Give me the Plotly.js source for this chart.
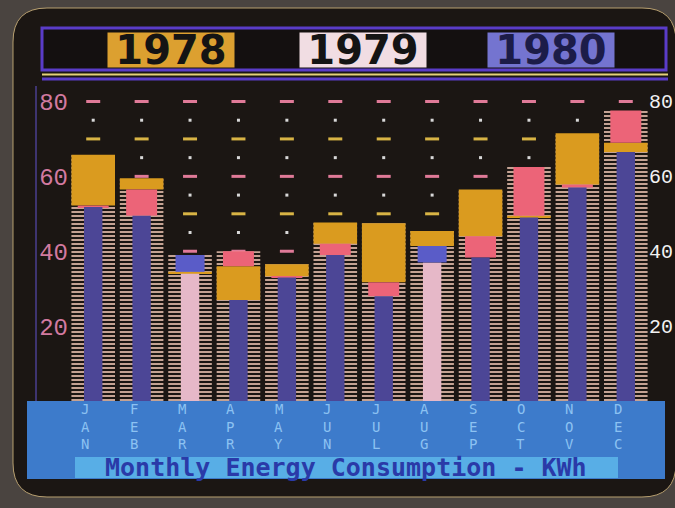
<!DOCTYPE html>
<html><head><meta charset="utf-8">
<script src="https://cdn.plot.ly/plotly-3.0.1.min.js"></script>
<style>html,body{margin:0;padding:0;background:#4a4440;}#chart{width:675px;height:508px;}</style>
</head><body><div id="chart"></div>
<script>
// ---- data ----
const months = ['JAN','FEB','MAR','APR','MAY','JUN','JUL','AUG','SEP','OCT','NOV','DEC'];
const years = ['1978','1979','1980'];
const kwh1978 = [65.8, 59.5, 34.5, 36.0, 36.5, 47.7, 47.5, 45.4, 56.5, 49.5, 71.5, 69.0];
const kwh1979 = [52.2, 56.5, 34.0, 40.0, 33.3, 42.0, 31.7, 37.0, 44.0, 62.5, 57.8, 77.6];
const kwh1980 = [51.8, 49.5, 39.0, 27.0, 33.0, 39.0, 28.0, 41.4, 38.3, 49.0, 57.0, 66.5];
const yTicks = [20, 40, 60, 80];
const gridPink = [20, 40, 60, 80];
const gridYellow = [10, 30, 50, 70];
const gridWhite = [5, 15, 25, 35, 45, 55, 65, 75];
const chartTitle = 'Monthly Energy Consumption - KWh';

// ---- geometry helpers (pixel -> paper) ----
const W = 675, H = 508, L = 69, R = 650, T = 94, B = 401;
const px = x => (x - L) / (R - L);
const py = y => (B - y) / (B - T);

const series = [kwh1978, kwh1979, kwh1980];
const capColor = ['#da9b1f', '#ec6478', '#5a5cc8'];
const innerColor = ['#e0a848', '#e6b8c8', '#4c4696'];
const capWidth = [0.9, 0.64, 0.6];
const innerW = 0.38;

const traces = [];
function gridTrace(levels, color, symbol, size, lw) {
  const xs = [], ys = [];
  levels.forEach(v => months.forEach(m => { xs.push(m); ys.push(v); }));
  return {type:'scatter', mode:'markers', x:xs, y:ys, xaxis:'x', yaxis:'y', hoverinfo:'skip', showlegend:false,
    marker:{symbol:symbol, size:size, color:color, line:{color:color, width:lw}}};
}
traces.push(gridTrace(gridPink, '#e07a98', 'line-ew', 10, 3));
traces.push(gridTrace(gridYellow, '#d8b445', 'line-ew', 10, 3));
traces.push(gridTrace(gridWhite, '#d8d8d8', 'square', 3, 0));

// outer frame reaching the highest value of the three years
const maxVals = months.map((m, i) => Math.max(kwh1978[i], kwh1979[i], kwh1980[i]));
traces.push({type:'bar', x:months, y:maxVals, width:0.9, xaxis:'x', yaxis:'y2', showlegend:false, hoverinfo:'skip',
  marker:{color:'#d4922c', line:{width:0},
    pattern:{shape:'-', size:4, solidity:0.4, fgcolor:'#efc6b4', fillmode:'replace'}}});

series.forEach((vals, s) => {
  const base = [], h = [], w = [], c = [];
  vals.forEach((v, i) => {
    let lower = -Infinity;
    series.forEach((o, t) => {
      if (t === s) return;
      const u = o[i];
      if (u < v || (u === v && t > s)) lower = Math.max(lower, u);
    });
    if (lower === -Infinity) { base.push(0); h.push(v); w.push(innerW); c.push(innerColor[s]); }
    else { base.push(lower); h.push(v - lower); w.push(capWidth[s]); c.push(capColor[s]); }
  });
  traces.push({type:'bar', name:years[s], x:months, y:h, base:base, width:w, xaxis:'x', yaxis:'y2',
    showlegend:false, customdata:vals, hovertemplate:'%{x} ' + years[s] + ': %{customdata} kWh<extra></extra>',
    marker:{color:c, line:{width:0}}});
});

// ---- shapes ----
function roundRect(x0, y0, x1, y1, r) {
  const P = (x, y) => px(x).toFixed(5) + ',' + py(y).toFixed(5);
  return 'M' + P(x0 + r, y0) + ' L' + P(x1 - r, y0) + ' Q' + P(x1, y0) + ' ' + P(x1, y0 + r) +
    ' L' + P(x1, y1 - r) + ' Q' + P(x1, y1) + ' ' + P(x1 - r, y1) +
    ' L' + P(x0 + r, y1) + ' Q' + P(x0, y1) + ' ' + P(x0, y1 - r) +
    ' L' + P(x0, y0 + r) + ' Q' + P(x0, y0) + ' ' + P(x0 + r, y0) + ' Z';
}
const shapes = [
  {type:'path', xref:'paper', yref:'paper', layer:'below', path:roundRect(13, 8, 676, 497, 34),
    fillcolor:'#1b1613', line:{color:'#b8a070', width:1}},
  {type:'rect', xref:'paper', yref:'paper', layer:'below', x0:px(42), x1:px(666), y0:py(28), y1:py(70),
    fillcolor:'#141010', line:{color:'#5a3cc8', width:3}},
  {type:'line', xref:'paper', yref:'paper', layer:'below', x0:px(42), x1:px(668), y0:py(74.5), y1:py(74.5),
    line:{color:'#e6d27a', width:2}},
  {type:'line', xref:'paper', yref:'paper', layer:'below', x0:px(42), x1:px(668), y0:py(79), y1:py(79),
    line:{color:'#5a3cc8', width:3}},
  {type:'line', xref:'paper', yref:'paper', layer:'below', x0:px(36), x1:px(36), y0:py(86), y1:py(401),
    line:{color:'#3e3470', width:2}},
  {type:'rect', xref:'paper', yref:'paper', layer:'below', x0:px(27), x1:px(665), y0:py(401), y1:py(479),
    fillcolor:'#3d7bcb', line:{width:0}},
  {type:'rect', xref:'paper', yref:'paper', layer:'below', x0:px(75), x1:px(618), y0:py(457), y1:py(478),
    fillcolor:'#58aee6', line:{width:0}}
];

// ---- annotations ----
const annotations = [];
const yearBg = ['#dca030', '#f1dde3', '#7474d0'];
const yearFg = ['#141414', '#141414', '#1c1c48'];
const yearX = [171, 363, 551];
years.forEach((y, k) => annotations.push({xref:'paper', yref:'paper', x:px(yearX[k]), y:py(50),
  xanchor:'center', yanchor:'middle',
  text:'<b>' + y + '</b>', showarrow:false, width:126, height:34, borderpad:0, bgcolor:yearBg[k],
  font:{family:'DejaVu Sans', size:40, color:yearFg[k]}}));
const rowY = [409, 426.5, 444];
months.forEach(m => m.split('').forEach((ch, k) => annotations.push({xref:'x', yref:'paper', x:m, y:py(rowY[k]),
  xanchor:'center', yanchor:'middle',
  text:ch, showarrow:false, xshift:-8, font:{family:'DejaVu Sans Mono', size:14, color:'#8cc2f2'}})));
annotations.push({xref:'paper', yref:'paper', x:px(346), y:py(467), xanchor:'center', yanchor:'middle',
  text:chartTitle, showarrow:false,
  font:{family:'DejaVu Sans Mono', size:25, color:'#2a3aa8', weight:'bold'}});

const layout = {
  width:W, height:H, margin:{l:L, r:W - R, t:T, b:H - B},
  paper_bgcolor:'#4a4440', plot_bgcolor:'rgba(0,0,0,0)',
  barmode:'overlay', showlegend:false, hovermode:'closest',
  xaxis:{type:'category', categoryarray:months, range:[-0.5, 11.5], showticklabels:false, ticks:'',
    showgrid:false, zeroline:false, showline:false, fixedrange:true},
  yaxis:{range:[0, 82], tickvals:yTicks, ticks:'', showgrid:false, zeroline:false, showline:false,
    tickfont:{family:'Liberation Mono', size:24, color:'#d27aa0'}, fixedrange:true},
  yaxis2:{overlaying:'y', side:'right', range:[0, 82], tickvals:yTicks, ticks:'', showgrid:false,
    zeroline:false, showline:false, ticklabelstandoff:-2,
    tickfont:{family:'Liberation Mono', size:20, color:'#f2f2f2'}, fixedrange:true},
  shapes:shapes, annotations:annotations
};
Plotly.newPlot('chart', traces, layout, {displayModeBar:false});
</script></body></html>
